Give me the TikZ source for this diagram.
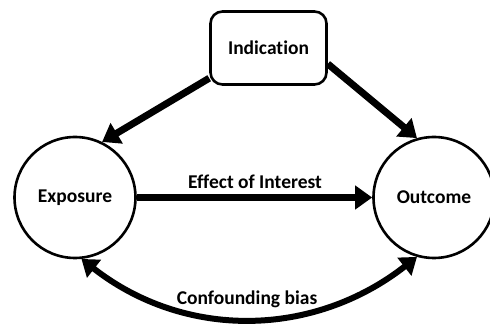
\documentclass[tikz,border=0pt]{standalone}
\usepackage{fontspec}
\setmainfont{Carlito}[Ligatures=NoCommon]
\usetikzlibrary{arrows.meta}

\tikzset{
  txt/.style={font=\bfseries\fontsize{19.5}{22}\selectfont},
  varnode/.style={circle, draw=black, line width=2.6pt, fill=white,
    minimum size=121pt, inner sep=0pt, txt},
  boxnode/.style={rectangle, rounded corners=12pt, draw=black, line width=2.6pt,
    fill=white, minimum width=116pt, minimum height=73pt, inner sep=0pt, txt},
  bigarrow/.style={line width=7pt, -{Triangle[length=17pt,width=23pt]}},
  curvearrow/.style={line width=6pt, {Triangle[length=16pt,width=22pt]}-{Triangle[length=16pt,width=22pt]}},
  lab/.style={txt, inner sep=0pt}
}

\begin{document}
\begin{tikzpicture}[x=1pt,y=1pt]
  \clip (0,0) rectangle (490,324);
  \fill[white] (0,0) rectangle (490,324);

  % variables
  \node[varnode] (exp) at (75,126.5) {Exposure};
  \node[varnode] (out) at (434,126.5) {Outcome};
  \node[boxnode] (ind) at (268.5,276) {Indication};

  % causal paths
  \draw[bigarrow] (ind.207) -- (exp.64);
  \draw[bigarrow] (ind.-15) -- (out.106);
  \draw[bigarrow] (exp.east) -- (out.west);

  % confounding path
  \draw[curvearrow] (exp.-84) to[out=-38, in=-142, looseness=1.0] (out.-106);

  % labels
  \node[lab] (eff) at (255,142) {Effect of Interest};
  \node[lab] (conf) at (247,25) {Confounding bias};
\end{tikzpicture}
\end{document}
